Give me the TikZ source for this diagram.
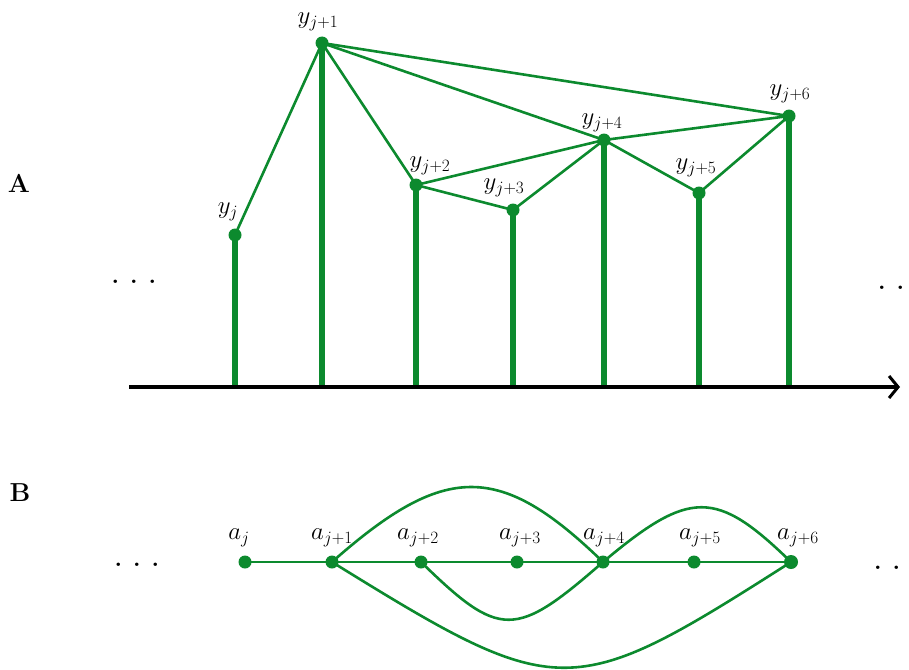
\documentclass[tikz,border=0pt]{standalone}
\usetikzlibrary{arrows.meta,backgrounds}
\definecolor{gr}{RGB}{12,138,46}
\newcommand{\lbl}[2]{$#1_{\hbox{\fontsize{17.28}{20}\selectfont$#2$}}$}
\begin{document}
\begin{tikzpicture}[x=1pt,y=-1pt,
  vtx/.style={circle,fill=gr,inner sep=0pt,minimum size=13pt},
  stem/.style={draw=gr,line width=5.5pt},
  edge/.style={draw=gr,line width=2.6pt},
  lab/.style={font=\fontsize{24.88}{30}\selectfont,inner sep=0pt},
  dotstyle/.style={font=\fontsize{24}{28}\selectfont\bfseries,inner sep=0pt},
  panel/.style={font=\fontsize{26}{30}\selectfont\bfseries,inner sep=0pt}]
\useasboundingbox (0,0) rectangle (909,669);

% panel labels
\node[panel] (pA) at (19,183) {A};
\node[panel] (pB) at (20,493) {B};

% dots
\node[dotstyle,anchor=base] (dA1) at (134,283) {.\hspace{11pt}.\hspace{11pt}.};
\node[dotstyle,anchor=base] (dA2) at (891,289) {.\hspace{11pt}.};
\node[dotstyle,anchor=base] (dB1) at (137,566) {.\hspace{11pt}.\hspace{11pt}.};
\node[dotstyle,anchor=base] (dB2) at (887,569) {.\hspace{11pt}.};

% ---------- Panel A ----------
\node[vtx] (y0) at (235,235) {};
\node[vtx] (y1) at (322,43) {};
\node[vtx] (y2) at (416,185) {};
\node[vtx] (y3) at (513,210) {};
\node[vtx] (y4) at (604,140) {};
\node[vtx] (y5) at (699,193) {};
\node[vtx] (y6) at (789,116) {};

\coordinate (b0) at (235,385);
\coordinate (b1) at (322,385);
\coordinate (b2) at (416,385);
\coordinate (b3) at (513,385);
\coordinate (b4) at (604,385);
\coordinate (b5) at (699,385);
\coordinate (b6) at (789,385);
\coordinate (ax0) at (129,387);
\coordinate (ax1) at (900,387);

\begin{scope}[on background layer]
  \foreach \i in {0,...,6} {\draw[stem] (y\i.center) -- (b\i);}
  \draw[edge] (y0.center) -- (y1.center);
  \draw[edge] (y1.center) -- (y2.center);
  \draw[edge] (y1.center) -- (y4.center);
  \draw[edge] (y1.center) -- (y6.center);
  \draw[edge] (y2.center) -- (y3.center);
  \draw[edge] (y2.center) -- (y4.center);
  \draw[edge] (y3.center) -- (y4.center);
  \draw[edge] (y4.center) -- (y5.center);
  \draw[edge] (y4.center) -- (y6.center);
  \draw[edge] (y5.center) -- (y6.center);
\end{scope}
\draw[line width=3.5pt,-{Straight Barb[length=9pt,width=22pt,line width=3pt]}] (ax0) -- (ax1);

\node[lab] (ly0) at (228,212) {\lbl{y}{j}};
\node[lab] (ly1) at (318,22) {\lbl{y}{j{+}1}};
\node[lab] (ly2) at (430,166) {\lbl{y}{j{+}2}};
\node[lab] (ly3) at (504,188) {\lbl{y}{j{+}3}};
\node[lab] (ly4) at (602,123) {\lbl{y}{j{+}4}};
\node[lab] (ly5) at (696,168) {\lbl{y}{j{+}5}};
\node[lab] (ly6) at (790,94) {\lbl{y}{j{+}6}};

% ---------- Panel B ----------
\node[vtx] (a0) at (245,562) {};
\node[vtx] (a1) at (332,562) {};
\node[vtx] (a2) at (421,562) {};
\node[vtx] (a3) at (517,562) {};
\node[vtx] (a4) at (603,562) {};
\node[vtx] (a5) at (694,562) {};
\node[vtx,minimum size=14pt] (a6) at (791,562) {};

\begin{scope}[on background layer]
  \draw[edge] (a0.center) -- (a6.center);
  \draw[edge] (a1.center) .. controls (445,462) and (500,462) .. (a4.center);
  \draw[edge] (a4.center) .. controls (690,489) and (716,489) .. (a6.center);
  \draw[edge] (a2.center) .. controls (500,639) and (515,639) .. (a4.center);
  \draw[edge] (a1.center) .. controls (560,703) and (570,703) .. (a6.center);
\end{scope}

\node[lab] (la0) at (239,538) {\lbl{a}{j}};
\node[lab] (la1) at (332,538) {\lbl{a}{j{+}1}};
\node[lab] (la2) at (418,538) {\lbl{a}{j{+}2}};
\node[lab] (la3) at (520,538) {\lbl{a}{j{+}3}};
\node[lab] (la4) at (604,538) {\lbl{a}{j{+}4}};
\node[lab] (la5) at (700,538) {\lbl{a}{j{+}5}};
\node[lab] (la6) at (798,538) {\lbl{a}{j{+}6}};
\end{tikzpicture}
\end{document}
